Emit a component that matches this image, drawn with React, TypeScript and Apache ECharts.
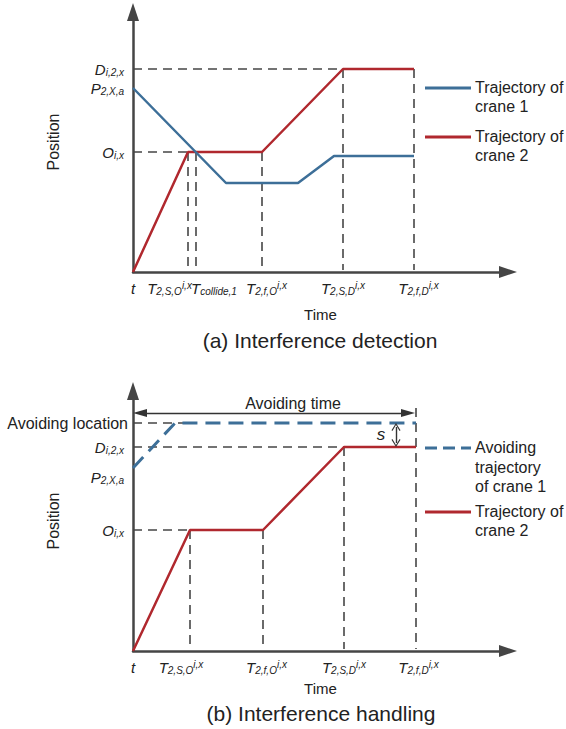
import React, { useEffect, useRef } from "react";
import * as echarts from "echarts";

// ---------- (a) Interference detection ----------
// time values: t, T2,S,O, Tcollide,1, T2,f,O, T2,S,D, T2,f,D
const topTimeValues = [0, 55, 63, 129, 210, 281];
const topTimeLabels = [
  ["t", "", ""],
  ["T", "2,S,O", "i,x"],
  ["T", "collide,1", ""],
  ["T", "2,f,O", "i,x"],
  ["T", "2,S,D", "i,x"],
  ["T", "2,f,D", "i,x"],
];
// position values: D, P, O
const topPosValues = [203, 184, 120];
const topPosLabels = [
  ["D", "i,2,x"],
  ["P", "2,X,a"],
  ["O", "i,x"],
];
const topCrane1 = [[0, 184], [93, 89], [165, 89], [201, 116], [281, 116]];
const topCrane2 = [[0, 0], [55, 120], [129, 120], [210, 203], [281, 203]];

// ---------- (b) Interference handling ----------
const botTimeValues = [0, 57, 130, 211, 283];
const botTimeLabels = [
  ["t", "", ""],
  ["T", "2,S,O", "i,x"],
  ["T", "2,f,O", "i,x"],
  ["T", "2,S,D", "i,x"],
  ["T", "2,f,D", "i,x"],
];
// position values: Avoiding location, D, P, O
const botPosValues = [228, 204, 183, 121];
const botPosLabels = [
  ["Avoiding location", ""],
  ["D", "i,2,x"],
  ["P", "2,X,a"],
  ["O", "i,x"],
];
const botCrane1 = [[0, 183], [42, 228], [283, 228]];
const botCrane2 = [[0, 0], [57, 121], [130, 121], [211, 204], [283, 204]];
const avoidTimeLevel = 238;
const sArrowTime = 263;

// label nudges (layout only)
const topTimeGaps = [[0, 0], [0, 37], [36, 0], [9, 0], [0, 0], [9, 0]];
const botTimeGaps = [[0, 0], [0, 18], [7, 0], [0, 0], [5, 0]];

const AX = "#454545";
const RED = "#b0282e";
const BLUE = "#3d6f98";
const TXT = "#222222";
const FONT = "'Liberation Sans', Arial, sans-serif";
const X_MAX = 375;
const Y_MAX = 260;

function richStyles(): any {
  const r: any = {
    m: { fontSize: 15, fontStyle: "italic", lineHeight: 16, color: TXT, fontFamily: FONT },
    b: { fontSize: 10, fontStyle: "italic", lineHeight: 8, verticalAlign: "bottom", color: TXT, fontFamily: FONT },
    p: { fontSize: 10, fontStyle: "italic", lineHeight: 12, verticalAlign: "top", color: TXT, fontFamily: FONT },
    n: { fontSize: 16, lineHeight: 18, color: TXT, fontFamily: FONT },
    e: { fontSize: 10, lineHeight: 18, fontFamily: FONT },
  };
  [4, 5, 7, 9, 18, 36, 37].forEach((w) => {
    r["g" + w] = { width: w, fontSize: 10, lineHeight: 8, fontFamily: FONT };
  });
  return r;
}

function fmtLabel(main: string, sub: string, sup: string, gl: number, gr: number, plain = false) {
  let s = "";
  if (gl) s += `{g${gl}| }`;
  s += plain ? `{n|${main}}` : `{m|${main}}`;
  if (sub) s += `{b|${sub}}`;
  if (sup) s += `{p|${sup}}`;
  if (gr) s += `{g${gr}| }`;
  return s;
}

const guideStyle = { color: AX, width: 1.6, type: [9, 6] as any };

function guide(data: number[][], idx: number) {
  return {
    type: "line",
    xAxisIndex: idx,
    yAxisIndex: idx,
    data,
    symbol: "none",
    silent: true,
    lineStyle: guideStyle,
    z: 1,
  };
}

export default function App() {
  const ref = useRef<HTMLDivElement>(null);
  useEffect(() => {
    if (!ref.current) return;
    const chart = echarts.init(ref.current, undefined, { renderer: "svg" });
    const rich = richStyles();

    const [, tSO, tCol, tfO, tSD, tfD] = topTimeValues;
    const [pD, , pO] = topPosValues;
    const [, bSO, bfO, bSD, bfD] = botTimeValues;
    const [bAv, bD, , bO] = botPosValues;

    const topXMap = new Map<number, string>();
    topTimeValues.forEach((v, i) => {
      const [m, s, p] = topTimeLabels[i];
      topXMap.set(v, fmtLabel(m, s, p, topTimeGaps[i][0], topTimeGaps[i][1]));
    });
    const botXMap = new Map<number, string>();
    botTimeValues.forEach((v, i) => {
      const [m, s, p] = botTimeLabels[i];
      botXMap.set(v, fmtLabel(m, s, p, botTimeGaps[i][0], botTimeGaps[i][1]));
    });
    const topYMap = new Map<number, string>();
    topPosValues.forEach((v, i) => {
      const [m, s] = topPosLabels[i];
      topYMap.set(v, fmtLabel(m, s, "", 0, 0));
    });
    const botYMap = new Map<number, string>();
    botPosValues.forEach((v, i) => {
      const [m, s] = botPosLabels[i];
      let str = i === 0 ? fmtLabel(m, "", "", 0, 0, true) : fmtLabel(m, s, "", 0, 4);
      if (i === 2) str = "{e| }\n" + str;
      botYMap.set(v, str);
    });

    const axisLine = {
      show: true,
      symbol: ["none", "triangle"],
      symbolSize: [12, 18],
      lineStyle: { color: AX, width: 2.5 },
    };

    const xAxis = (idx: number, values: number[], map: Map<number, string>, gap: number) => ({
      gridIndex: idx,
      type: "value",
      min: 0,
      max: X_MAX,
      axisLine,
      axisTick: { show: false },
      splitLine: { show: false },
      axisLabel: {
        customValues: values,
        formatter: (v: number) => map.get(v) ?? "",
        rich,
        margin: 8,
        showMinLabel: true,
        showMaxLabel: true,
      },
      name: "Time",
      nameLocation: "middle",
      nameGap: gap,
      nameMoveOverlap: false,
      nameTextStyle: { fontSize: 15, color: TXT, fontFamily: FONT },
    });
    const yAxis = (idx: number, values: number[], map: Map<number, string>, margin: number) => ({
      gridIndex: idx,
      type: "value",
      min: 0,
      max: Y_MAX,
      axisLine,
      axisTick: { show: false },
      splitLine: { show: false },
      axisLabel: {
        customValues: values,
        formatter: (v: number) => map.get(v) ?? "",
        rich,
        margin,
        showMinLabel: true,
        showMaxLabel: true,
      },
      name: "Position",
      nameLocation: "middle",
      nameGap: 72,
      nameMoveOverlap: false,
      nameTextStyle: { fontSize: 16, color: TXT, fontFamily: FONT },
    });

    const chevron = "path://M0,10 L6,0 L12,10 L10.8,11 L6,2.6 L1.2,11 Z";

    const option: any = {
      animation: false,
      textStyle: { fontFamily: FONT },
      grid: [
        { left: 133, top: 12, width: X_MAX, height: Y_MAX, outerBoundsMode: "none", containLabel: false },
        { left: 133, top: 391, width: X_MAX, height: Y_MAX, outerBoundsMode: "none", containLabel: false },
      ],
      xAxis: [xAxis(0, topTimeValues, topXMap, 35), xAxis(1, botTimeValues, botXMap, 30)],
      yAxis: [yAxis(0, topPosValues, topYMap, 9), yAxis(1, botPosValues, botYMap, 5)],
      series: [
        // (a) guides
        guide([[0, pD], [tSD, pD]], 0),
        guide([[0, pO], [tSO, pO]], 0),
        guide([[tSO, pO], [tSO, 2]], 0),
        guide([[tCol, pO], [tCol, 2]], 0),
        guide([[tfO, pO], [tfO, 2]], 0),
        guide([[tSD, pD], [tSD, 2]], 0),
        guide([[tfD, pD], [tfD, 2]], 0),
        {
          name: "Trajectory of crane 2",
          type: "line",
          xAxisIndex: 0,
          yAxisIndex: 0,
          data: topCrane2,
          symbol: "none",
          silent: true,
          lineStyle: { color: RED, width: 2.5 },
          z: 3,
        },
        {
          name: "Trajectory of crane 1",
          type: "line",
          xAxisIndex: 0,
          yAxisIndex: 0,
          data: topCrane1,
          symbol: "none",
          silent: true,
          lineStyle: { color: BLUE, width: 2.5 },
          z: 4,
        },
        // (b) guides
        guide([[0, bAv], [60, bAv]], 1),
        guide([[0, bD], [bSD, bD]], 1),
        guide([[0, bO], [bSO, bO]], 1),
        guide([[bSO, bO], [bSO, 2]], 1),
        guide([[bfO, bO], [bfO, 2]], 1),
        guide([[bSD, bD], [bSD, 2]], 1),
        guide([[bfD, avoidTimeLevel + 5], [bfD, 2]], 1),
        {
          name: "Trajectory of crane 2 (b)",
          type: "line",
          xAxisIndex: 1,
          yAxisIndex: 1,
          data: botCrane2,
          symbol: "none",
          silent: true,
          lineStyle: { color: RED, width: 2.5 },
          z: 3,
        },
        {
          name: "Avoiding trajectory of crane 1",
          type: "line",
          xAxisIndex: 1,
          yAxisIndex: 1,
          data: botCrane1,
          symbol: "none",
          silent: true,
          lineStyle: { color: BLUE, width: 3, type: [15, 8] },
          z: 4,
        },
        {
          name: "arrows",
          type: "line",
          xAxisIndex: 1,
          yAxisIndex: 1,
          data: [],
          silent: true,
          markLine: {
            silent: true,
            animation: false,
            label: { show: false },
            emphasis: { disabled: true },
            data: [
              [
                { coord: [7, avoidTimeLevel], symbol: "triangle", symbolSize: [8, 14] },
                { coord: [bfD - 8, avoidTimeLevel], symbol: "triangle", symbolSize: [8, 14] },
              ],
              [
                { coord: [sArrowTime, bAv - 4], symbol: chevron, symbolSize: [9, 8] },
                { coord: [sArrowTime, bD + 4], symbol: chevron, symbolSize: [9, 8] },
              ],
            ],
            lineStyle: { color: "#333", width: 1.4, type: "solid" },
          },
        },
      ],
      graphic: [
        // legend (a)
        { type: "line", shape: { x1: 425, y1: 88, x2: 471, y2: 88 }, style: { stroke: BLUE, lineWidth: 3 } },
        { type: "text", x: 475, y: 78, style: { text: "Trajectory of\ncrane 1", fontSize: 16, lineHeight: 19, fill: TXT, fontFamily: FONT, verticalAlign: "top" } },
        { type: "line", shape: { x1: 425, y1: 137, x2: 471, y2: 137 }, style: { stroke: RED, lineWidth: 3 } },
        { type: "text", x: 475, y: 127, style: { text: "Trajectory of\ncrane 2", fontSize: 16, lineHeight: 19, fill: TXT, fontFamily: FONT, verticalAlign: "top" } },
        // legend (b)
        { type: "line", shape: { x1: 425, y1: 448, x2: 471, y2: 448 }, style: { stroke: BLUE, lineWidth: 3, lineDash: [12, 6] } },
        { type: "text", x: 475, y: 438, style: { text: "Avoiding\ntrajectory\nof crane 1", fontSize: 16, lineHeight: 19.5, fill: TXT, fontFamily: FONT, verticalAlign: "top" } },
        { type: "line", shape: { x1: 425, y1: 512, x2: 471, y2: 512 }, style: { stroke: RED, lineWidth: 3 } },
        { type: "text", x: 475, y: 502, style: { text: "Trajectory of\ncrane 2", fontSize: 16, lineHeight: 19, fill: TXT, fontFamily: FONT, verticalAlign: "top" } },
        // annotations
        { type: "text", x: 293, y: 403, style: { text: "Avoiding time", fontSize: 16, fill: TXT, fontFamily: FONT, align: "center", verticalAlign: "middle" } },
        { type: "text", x: 381, y: 434, style: { text: "s", fontSize: 17, fontStyle: "italic", fill: TXT, fontFamily: FONT, align: "center", verticalAlign: "middle" } },
        // captions
        { type: "text", x: 320, y: 340, style: { text: "(a) Interference detection", fontSize: 21, fill: TXT, fontFamily: FONT, align: "center", verticalAlign: "middle" } },
        { type: "text", x: 321, y: 713, style: { text: "(b) Interference handling", fontSize: 21, fill: TXT, fontFamily: FONT, align: "center", verticalAlign: "middle" } },
      ],
    };
    chart.setOption(option);
    return () => chart.dispose();
  }, []);
  return (
    <div
      ref={ref}
      style={{ position: "absolute", left: 0, top: 0, width: 566, height: 729, background: "#fff" }}
    />
  );
}
